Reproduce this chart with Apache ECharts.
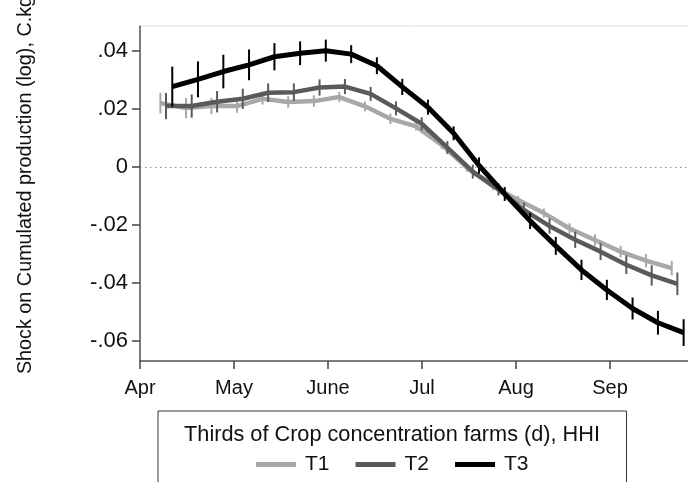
<!DOCTYPE html>
<html>
<head>
<meta charset="utf-8">
<script src="https://cdn.jsdelivr.net/npm/echarts@6/dist/echarts.min.js"></script>
<style>
  html, body { margin: 0; padding: 0; background: #fff; }
  #chart { width: 688px; height: 482px; }
</style>
</head>
<body>
<div id="chart"></div>
<script>
// Week positions (days after 1 April) of the estimates, middle group
const weekDays = [8.3, 16.5, 24.6, 32.8, 40.9, 49.1, 57.3, 65.4, 73.6, 81.7, 89.9,
                  98.1, 106.2, 114.4, 122.5, 130.7, 138.9, 147.0, 155.2, 163.3, 171.5];

// Point estimates per third
const t1Values = [0.0220, 0.0203, 0.0210, 0.0210, 0.0235, 0.0224, 0.0227, 0.0241, 0.0209, 0.0166, 0.0140,
                  0.0076, -0.0003, -0.0066, -0.0114, -0.0159, -0.0212, -0.0252, -0.0292, -0.0323, -0.0349];
const t2Values = [0.0210, 0.0210, 0.0225, 0.0235, 0.0256, 0.0258, 0.0274, 0.0277, 0.0252, 0.0202, 0.0149,
                  0.0067, -0.0016, -0.0077, -0.0148, -0.0204, -0.0251, -0.0292, -0.0337, -0.0374, -0.0403];
const t3Values = [0.0277, 0.0302, 0.0329, 0.0352, 0.0380, 0.0392, 0.0401, 0.0389, 0.0349, 0.0276, 0.0206,
                  0.0116, 0.0005, -0.0093, -0.0186, -0.0272, -0.0355, -0.0424, -0.0488, -0.0537, -0.0571];

// Half-widths of the confidence intervals
const t1Half = [0.0036, 0.0035, 0.0028, 0.0023, 0.0020, 0.0020, 0.0020, 0.0018, 0.0017, 0.0018, 0.0014,
                0.0014, 0.0014, 0.0014, 0.0014, 0.0016, 0.0018, 0.0020, 0.0020, 0.0023, 0.0025];
const t2Half = [0.0045, 0.0040, 0.0037, 0.0035, 0.0032, 0.0030, 0.0028, 0.0026, 0.0024, 0.0024, 0.0022,
                0.0022, 0.0024, 0.0021, 0.0024, 0.0026, 0.0028, 0.0029, 0.0032, 0.0035, 0.0039];
const t3Half = [0.0069, 0.0062, 0.0058, 0.0053, 0.0047, 0.0041, 0.0038, 0.0031, 0.0029, 0.0028, 0.0026,
                0.0024, 0.0028, 0.0024, 0.0028, 0.0031, 0.0035, 0.0035, 0.0038, 0.0041, 0.0046];

const seriesNames = ['T1', 'T2', 'T3'];

// Axis ticks
const xTicks = [0, 30, 60, 90, 120, 150];
const xTickLabels = ['Apr', 'May', 'June', 'Jul', 'Aug', 'Sep'];
const yTicks = [-0.06, -0.04, -0.02, 0, 0.02, 0.04];
const yTickLabels = ['-.06', '-.04', '-.02', '0', '.02', '.04'];

const FONT = 'Liberation Sans, Arial, Helvetica, sans-serif';
const colors = ['#a8a8a8', '#5a5a5a', '#000000'];
const lineWidths = [4.5, 4.5, 5];
const dodge = [-1.8, 0, 2.0];   // small horizontal offset so the groups do not overlap

const groups = [
  { name: seriesNames[0], values: t1Values, half: t1Half },
  { name: seriesNames[1], values: t2Values, half: t2Half },
  { name: seriesNames[2], values: t3Values, half: t3Half }
];

const series = [];
groups.forEach(function (g, k) {
  const pts = g.values.map(function (v, i) { return [weekDays[i] + dodge[k], v, g.half[i]]; });
  // confidence-interval spikes
  series.push({
    type: 'custom',
    name: g.name + ' CI',
    silent: true,
    z: 2 + k * 2,
    data: pts,
    renderItem: function (params, api) {
      const x = api.value(0), y = api.value(1), h = api.value(2);
      const lo = api.coord([x, y - h]);
      const hi = api.coord([x, y + h]);
      return {
        type: 'line',
        shape: { x1: lo[0], y1: lo[1], x2: hi[0], y2: hi[1] },
        style: { stroke: colors[k], lineWidth: 2 }
      };
    }
  });
  // point-estimate line
  series.push({
    type: 'line',
    name: g.name,
    z: 3 + k * 2,
    data: pts.map(function (p) { return [p[0], p[1]]; }),
    showSymbol: false,
    symbol: 'none',
    itemStyle: { color: colors[k] },
    lineStyle: { color: colors[k], width: lineWidths[k], join: 'round' },
    markLine: k === 0 ? {
      silent: true,
      symbol: 'none',
      label: { show: false },
      lineStyle: { type: [1.5, 3.5], color: '#8c8c8c', width: 1.2 },
      data: [{ yAxis: 0 }]
    } : undefined
  });
});

const chart = echarts.init(document.getElementById('chart'), null, { renderer: 'canvas' });
chart.setOption({
  animation: false,
  backgroundColor: '#ffffff',
  grid: {
    left: 140, top: 26, width: 564, height: 335,
    containLabel: false, outerBoundsMode: 'none',
    show: true, borderColor: '#d5e3ea', borderWidth: 1, backgroundColor: 'transparent'
  },
  title: {
    text: 'Thirds of Crop concentration farms (d), HHI',
    left: 387, top: 419, textAlign: 'center',
    textStyle: { fontFamily: FONT, fontSize: 21.7, fontWeight: 'normal', color: '#111' }
  },
  legend: {
    data: seriesNames,
    left: 158, top: 411,
    padding: [43, 98, 30, 98],
    itemGap: 26,
    itemWidth: 40, itemHeight: 5,
    icon: 'rect',
    borderColor: '#333', borderWidth: 1,
    textStyle: { fontFamily: FONT, fontSize: 21, color: '#111', padding: [0, 0, 0, 4] }
  },
  xAxis: {
    type: 'value', min: 0, max: 180,
    axisLine: { show: true, onZero: false, lineStyle: { color: '#555', width: 1.5 } },
    axisTick: { show: true, length: 8, customValues: xTicks, lineStyle: { color: '#444', width: 1.5 } },
    axisLabel: {
      customValues: xTicks, margin: 17,
      fontFamily: FONT, fontSize: 20, color: '#111',
      formatter: function (v) { return xTickLabels[xTicks.indexOf(v)]; }
    },
    splitLine: { show: false }
  },
  yAxis: {
    type: 'value', min: -0.0669, max: 0.0486,
    name: 'Shock on Cumulated production (log), C.kg',
    nameLocation: 'middle', nameGap: 104,
    nameTextStyle: { fontFamily: FONT, fontSize: 19.8, color: '#111', padding: [0, 0, 0, 17] },
    axisLine: { show: true, onZero: false, lineStyle: { color: '#555', width: 1.5 } },
    axisTick: { show: true, length: 8, customValues: yTicks, lineStyle: { color: '#444', width: 1.5 } },
    axisLabel: {
      customValues: yTicks, margin: 12,
      fontFamily: FONT, fontSize: 22, color: '#111',
      formatter: function (v) {
        const i = yTicks.findIndex(function (t) { return Math.abs(t - v) < 1e-9; });
        return yTickLabels[i];
      }
    },
    splitLine: { show: false }
  },
  series: series
});
</script>
</body>
</html>
